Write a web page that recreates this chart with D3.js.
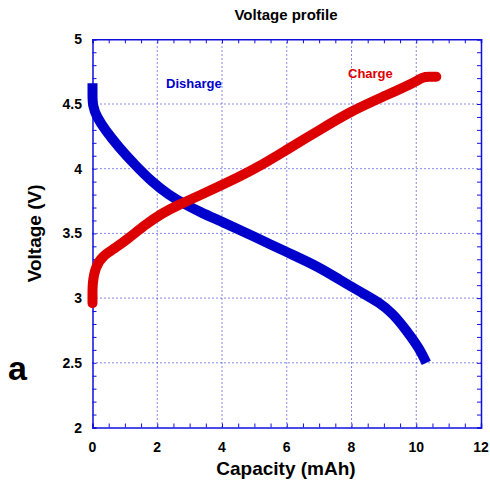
<!DOCTYPE html>
<html><head><meta charset="utf-8">
<script src="https://cdn.jsdelivr.net/npm/d3@7"></script>
<style>body{margin:0;background:#fff}svg{display:block;font-family:"Liberation Sans",Arial,sans-serif}</style>
</head><body><svg id="c" width="490" height="482"></svg>
<script>
const dischargeCap = [0, 0, 0, 0.13, 0.39, 0.80, 1.31, 1.83, 2.34, 2.85, 3.32, 4.0, 5.0, 6.0, 7.0, 7.64, 8.26, 8.87, 9.28, 9.70, 10.1, 10.31];
const dischargeV   = [4.66, 4.58, 4.49, 4.40, 4.30, 4.17, 4.03, 3.90, 3.80, 3.725, 3.665, 3.59, 3.475, 3.355, 3.24, 3.14, 3.05, 2.965, 2.88, 2.75, 2.61, 2.50];
const chargeCap = [0, 0, 0, 0.08, 0.33, 0.69, 1.10, 1.62, 2.14, 2.65, 3.37, 4.27, 5.07, 5.99, 7.02, 7.95, 8.97, 9.90, 10.21, 10.40, 10.62];
const chargeV   = [2.96, 3.04, 3.11, 3.24, 3.33, 3.385, 3.46, 3.565, 3.655, 3.72, 3.80, 3.905, 4.005, 4.145, 4.30, 4.44, 4.556, 4.66, 4.71, 4.71, 4.71];
const xTicks = [0, 2, 4, 6, 8, 10, 12];
const yTicks = [2, 2.5, 3, 3.5, 4, 4.5, 5];

const svg = d3.select("#c");
const x = d3.scaleLinear().domain([0, 12]).range([92.5, 481]);
const y = d3.scaleLinear().domain([2, 5]).range([427.5, 39.3]);
const blue = "#0000cc", axisBlue = "#1010dd", red = "#dd0000";

// grid
const g = svg.append("g");
xTicks.slice(1, -1).forEach(t => g.append("line").attr("x1", x(t)).attr("x2", x(t)).attr("y1", y(2)).attr("y2", y(5))
  .attr("stroke", axisBlue).attr("stroke-width", 1).attr("stroke-dasharray", "1,3"));
yTicks.slice(1, -1).forEach(t => g.append("line").attr("x1", x(0)).attr("x2", x(12)).attr("y1", y(t)).attr("y2", y(t))
  .attr("stroke", axisBlue).attr("stroke-width", 1).attr("stroke-dasharray", "1,3"));

// axes with inward ticks
const xMinor = d3.range(0, 12.001, 0.5);
const yMinor = d3.range(2, 5.001, 0.1);
const ax = svg.append("g").attr("stroke", axisBlue).attr("stroke-width", 1);
ax.append("g").attr("transform", `translate(0,${y(2)})`).call(d3.axisBottom(x).tickValues(xMinor).tickSize(-4).tickFormat(""));
ax.append("g").attr("transform", `translate(0,${y(5)})`).call(d3.axisTop(x).tickValues(xMinor).tickSize(-4).tickFormat(""));
ax.append("g").attr("transform", `translate(${x(0)},0)`).call(d3.axisLeft(y).tickValues(yMinor).tickSize(-4).tickFormat(""));
ax.append("g").attr("transform", `translate(${x(12)},0)`).call(d3.axisRight(y).tickValues(yMinor).tickSize(-4).tickFormat(""));
ax.selectAll(".domain").attr("stroke", axisBlue).attr("stroke-width", 1.5);
ax.selectAll(".tick line").attr("stroke", axisBlue);

// tick labels
svg.append("g").selectAll("text").data(xTicks).join("text")
  .attr("x", d => x(d)).attr("y", 452).attr("text-anchor", "middle")
  .attr("font-size", 14).attr("font-weight", "bold").text(d => d);
svg.append("g").selectAll("text").data(yTicks).join("text")
  .attr("x", 82).attr("y", d => y(d) + 5).attr("text-anchor", "end")
  .attr("font-size", 14).attr("font-weight", "bold").text(d => d);

// curves
const lineD = d3.line().x(d => x(d[0])).y(d => y(d[1])).curve(d3.curveBasis);
svg.append("path").attr("d", lineD(dischargeCap.map((c, i) => [c, dischargeV[i]])))
  .attr("fill", "none").attr("stroke", blue).attr("stroke-width", 10).attr("stroke-linejoin", "round");
svg.append("path").attr("d", lineD(chargeCap.map((c, i) => [c, chargeV[i]])))
  .attr("fill", "none").attr("stroke", red).attr("stroke-width", 10).attr("stroke-linecap", "round").attr("stroke-linejoin", "round");

// labels
svg.append("text").attr("x", 166).attr("y", 88).attr("fill", blue).attr("font-size", 13).attr("font-weight", "bold").text("Disharge");
svg.append("text").attr("x", 348).attr("y", 78).attr("fill", red).attr("font-size", 13).attr("font-weight", "bold").text("Charge");
svg.append("text").attr("x", 286).attr("y", 20).attr("text-anchor", "middle").attr("font-size", 15).attr("font-weight", "bold").text("Voltage profile");
svg.append("text").attr("x", 286).attr("y", 475).attr("text-anchor", "middle").attr("font-size", 19).attr("font-weight", "bold").text("Capacity (mAh)");
svg.append("text").attr("transform", `translate(41,${y(3.5)}) rotate(-90)`).attr("text-anchor", "middle").attr("font-size", 19).attr("font-weight", "bold").text("Voltage (V)");
svg.append("text").attr("x", 8).attr("y", 380).attr("font-size", 34).attr("font-weight", "bold").text("a");
</script></body></html>
